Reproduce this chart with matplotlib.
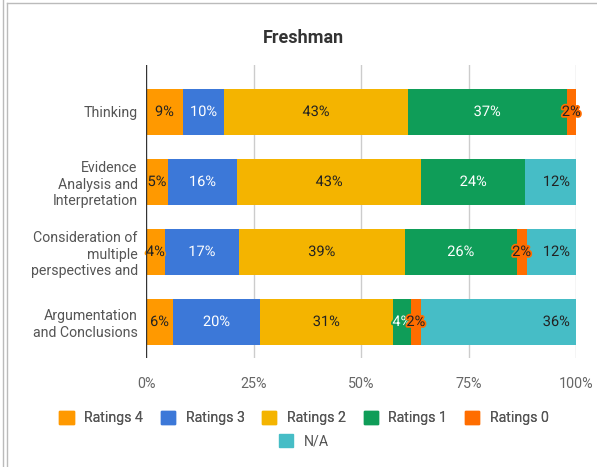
"""100% stacked horizontal bars: Freshman ratings per rubric criterion."""

import matplotlib

matplotlib.use("Agg")
import matplotlib.pyplot as plt
import matplotlib.patheffects as pe
from matplotlib.lines import Line2D
from matplotlib.patches import Patch
import numpy as np

plt.rcParams["font.family"] = ["Roboto", "DejaVu Sans"]

categories = [
    "Thinking",
    "Evidence\nAnalysis and\nInterpretation",
    "Consideration of\nmultiple\nperspectives and",
    "Argumentation\nand Conclusions",
]
series_names = ["Ratings 4", "Ratings 3", "Ratings 2", "Ratings 1", "Ratings 0", "N/A"]

# shares in percent
ratings_4 = [8.6, 5.1, 4.4, 6.3]
ratings_3 = [9.6, 16.1, 17.2, 20.2]
ratings_2 = [42.7, 42.8, 38.6, 30.9]
ratings_1 = [36.9, 24.2, 26.0, 4.2]
ratings_0 = [2.2, 0.0, 2.3, 2.3]
not_applicable = [0.0, 11.8, 11.5, 36.1]

colors = ["#FF9900", "#3C78D8", "#F4B400", "#0F9D58", "#FF6D00", "#46BDC6"]
text_colors = ["#222222", "#FFFFFF", "#222222", "#FFFFFF", "#222222", "#222222"]

W, H = 597, 467
fig = plt.figure(figsize=(W / 100, H / 100), dpi=100)
ax = fig.add_axes([146 / W, 1 - 358 / H, 430 / W, 293 / H])

data = np.array([ratings_4, ratings_3, ratings_2, ratings_1, ratings_0, not_applicable])
data = data / data.sum(axis=0) * 100
y = np.arange(len(categories))
left = np.zeros(len(categories))

for i, name in enumerate(series_names):
    vals = data[i]
    ax.barh(y, vals, left=left, height=0.645, color=colors[i], label=name, zorder=3)
    for j, v in enumerate(vals):
        if v <= 0:
            continue
        # N/A labels sit at the right end of their segment
        if name == "N/A":
            xt, ha = left[j] + v - 1.4, "right"
        else:
            xt, ha = left[j] + v / 2, "center"
        ax.text(xt, y[j], f"{round(v):d}%", ha=ha, va="center",
                fontsize=10.5, color=text_colors[i], zorder=4,
                path_effects=[pe.withStroke(linewidth=2.5, foreground=colors[i])])
    left += vals

ax.set_xlim(0, 100)
ax.set_ylim(3 + 36 / 70, -47 / 70)
ax.set_yticks(y)
ax.set_yticklabels(categories, fontsize=10.2, color="#555555", linespacing=1.2)
ax.set_xticks([0, 25, 50, 75, 100])
ax.set_xticklabels(["0%", "25%", "50%", "75%", "100%"], fontsize=10.3, color="#666666")
ax.tick_params(length=0)
ax.tick_params(axis="y", pad=6)
ax.tick_params(axis="x", pad=14)
for s in ax.spines.values():
    s.set_visible(False)
for xv in [25, 50, 75, 100]:
    ax.axvline(xv, color="#CCCCCC", linewidth=1, zorder=1)
ax.axvline(0, color="#333333", linewidth=1, zorder=5)

fig.text(303 / W, 1 - 38 / H, "Freshman", ha="center", va="center",
         fontsize=13, fontweight="bold", color="#333333")

handles = [Patch(facecolor=c, edgecolor=c) for c in colors]
leg1 = fig.legend(handles[:5], series_names[:5], loc="center", ncol=5,
                  bbox_to_anchor=(304 / W, 1 - 418 / H), frameon=False, fontsize=10.2,
                  handlelength=1.0, handleheight=1.0, handletextpad=0.75, columnspacing=1.25,
                  labelcolor="#555555")
fig.add_artist(leg1)
fig.legend(handles[5:], series_names[5:], loc="center", ncol=1,
           bbox_to_anchor=(304 / W, 1 - 441 / H), frameon=False, fontsize=10.2,
           handlelength=1.0, handleheight=1.0, handletextpad=0.75, labelcolor="#555555")

# frame lines of the embedding page
fig.add_artist(Line2D([7 / W, 1], [1 - 3 / H, 1 - 3 / H], color="#BBBBBB", linewidth=1))
fig.add_artist(Line2D([2.5 / W, 2.5 / W], [0, 1], color="#BBBBBB", linewidth=1))
fig.add_artist(Line2D([6.5 / W, 6.5 / W], [0, 1 - 3 / H], color="#BBBBBB", linewidth=1))

fig.savefig("out.png", dpi=100)
